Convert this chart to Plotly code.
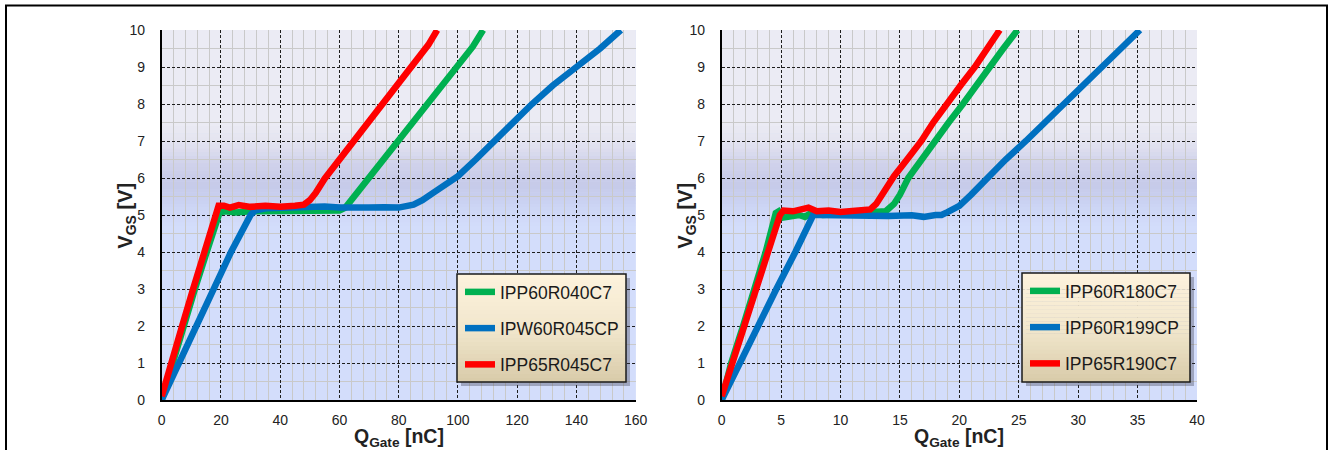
import plotly.graph_objects as go

W, H = 1332, 450

# ---------------- data ----------------
# Left chart: x = Q_Gate [nC] (0..160), y = V_GS [V]
L_NAMES = ["IPP60R040C7", "IPW60R045CP", "IPP65R045C7"]
L_GREEN_Q = [0, 3.6, 7.5, 11.2, 15.2, 18.8, 19.6, 22, 25, 30, 35, 40, 45, 50, 55, 60, 62, 64, 66,
             70, 75, 80, 85, 90, 95, 100, 105, 108.5]
L_GREEN_V = [0, 1.0, 2.0, 3.0, 4.0, 5.0, 5.08, 5.1, 5.07, 5.1, 5.1, 5.12, 5.09, 5.1, 5.08, 5.12,
             5.2, 5.4, 5.62, 6.05, 6.55, 7.0, 7.55, 8.05, 8.5, 9.0, 9.55, 10.0]
L_BLUE_Q = [0, 5.7, 12, 17.7, 23.4, 30, 31.5, 35, 40, 45, 50, 55, 60, 65, 70, 75, 80, 85, 88, 92,
            96, 100, 106, 112, 118, 125, 132, 140, 148, 155]
L_BLUE_V = [0, 1.0, 2.0, 3.0, 4.0, 5.0, 5.12, 5.18, 5.2, 5.22, 5.2, 5.23, 5.2, 5.22, 5.2, 5.21,
            5.2, 5.28, 5.4, 5.62, 5.85, 6.05, 6.5, 7.0, 7.45, 8.0, 8.5, 9.0, 9.5, 10.0]
L_RED_Q = [0, 3.1, 6.9, 10.6, 14.6, 18.3, 19.2, 21, 23, 26, 30, 35, 40, 45, 48, 50, 52, 55, 60,
           65, 70, 75, 80, 85, 90, 93]
L_RED_V = [0.1, 1.0, 2.0, 3.0, 4.0, 5.0, 5.25, 5.25, 5.2, 5.27, 5.22, 5.25, 5.22, 5.25, 5.28,
           5.4, 5.6, 5.98, 6.5, 7.0, 7.5, 8.05, 8.55, 9.05, 9.6, 10.0]

# Right chart: x = Q_Gate [nC] (0..40), y = V_GS [V]
R_NAMES = ["IPP60R180C7", "IPP60R199CP", "IPP65R190C7"]
R_GREEN_Q = [0, 0.8, 1.8, 2.75, 3.7, 4.55, 4.8, 5.2, 5.8, 6.5, 7.0, 7.5, 8.5, 10, 11.5, 13, 13.8,
             14.5, 15.0, 15.7, 16.8, 17.9, 19.1, 20.3, 21.4, 22.5, 23.7, 24.9]
R_GREEN_V = [0, 1.0, 2.0, 3.0, 4.0, 5.05, 5.1, 4.93, 4.98, 5.0, 4.95, 5.05, 5.0, 5.02, 5.05, 5.05,
             5.1, 5.3, 5.55, 6.0, 6.5, 7.0, 7.5, 8.0, 8.5, 9.0, 9.5, 10.0]
R_BLUE_Q = [0, 1.5, 3.0, 4.6, 6.2, 7.7, 8.2, 10, 12, 14, 16, 17, 18, 18.5, 19, 20, 21, 22.3,
            23.9, 25.6, 27.2, 28.8, 30.4, 32.1, 33.6, 35.2]
R_BLUE_V = [0, 1.0, 2.0, 3.0, 4.0, 5.0, 5.0, 4.98, 5.0, 4.97, 4.99, 4.95, 5.0, 5.0, 5.08, 5.25,
            5.55, 6.0, 6.5, 7.0, 7.5, 8.0, 8.5, 9.0, 9.5, 10.0]
R_RED_Q = [0, 0.93, 1.97, 2.9, 3.9, 4.9, 5.2, 6, 7, 7.3, 8, 9, 10, 11, 12, 12.5, 13, 13.5, 14,
           14.5, 15.6, 16.8, 17.8, 18.9, 20.1, 21.3, 22.3, 23.4]
R_RED_V = [0.1, 1.0, 2.0, 3.0, 4.0, 5.0, 5.12, 5.1, 5.15, 5.2, 5.1, 5.12, 5.08, 5.1, 5.12, 5.15,
           5.3, 5.55, 5.8, 6.05, 6.5, 7.0, 7.5, 8.0, 8.5, 9.0, 9.5, 10.0]

L_XMAX, R_XMAX, YMAX = 160, 40, 10
L_XTICK, R_XTICK, YTICK = 20, 5, 1
L_XMINOR, R_XMINOR, YMINOR = 4, 1, 0.5
X_TITLE = "<b>Q<sub>Gate</sub> [nC]</b>"
Y_TITLE = "<b>V<sub>GS</sub> [V]</b>"

COLORS = ["#00b050", "#0070c0", "#ff0000"]
FONT = "Arial, 'Liberation Sans', sans-serif"

# ---------------- helpers (styling only) ----------------
def hex2rgb(h):
    h = h.lstrip("#")
    return [int(h[i:i + 2], 16) for i in (0, 2, 4)]


def interp_color(stops, t):
    for (a, ca), (b, cb) in zip(stops[:-1], stops[1:]):
        if a <= t <= b:
            f = 0 if b == a else (t - a) / (b - a)
            c1, c2 = hex2rgb(ca), hex2rgb(cb)
            return "rgb(%d,%d,%d)" % tuple(round(c1[i] + (c2[i] - c1[i]) * f) for i in range(3))
    return stops[-1][1]


px_x = lambda v: v / W
px_y = lambda v: 1 - v / H

L_DOM = [161.7, 635.7]
R_DOM = [721.7, 1197.0]
Y_DOM = [30.0, 400.0]

fig = go.Figure()

# traces
for q, v, name, col in zip([L_GREEN_Q, L_BLUE_Q, L_RED_Q], [L_GREEN_V, L_BLUE_V, L_RED_V], L_NAMES, COLORS):
    fig.add_trace(go.Scatter(x=q, y=v, mode="lines", name=name, legend="legend", legendgroup=name,
                             line=dict(color=col, width=6.5), xaxis="x", yaxis="y", hoverinfo="skip"))
for q, v, name, col in zip([R_GREEN_Q, R_BLUE_Q, R_RED_Q], [R_GREEN_V, R_BLUE_V, R_RED_V], R_NAMES, COLORS):
    fig.add_trace(go.Scatter(x=q, y=v, mode="lines", name=name, legend="legend2", legendgroup=name,
                             line=dict(color=col, width=6.5), xaxis="x2", yaxis="y2", hoverinfo="skip"))

shapes = []
# plot-area background gradient (light lavender top, darker band, light blue bottom)
BG_STOPS = [(0, "#d3ddfb"), (4.7, "#d3ddfb"), (5.3, "#cbd3f3"), (5.8, "#c6cae9"),
            (6.4, "#d0d2eb"), (7.0, "#e4e4f0"), (7.4, "#eaeaf3"), (10, "#ebebf4")]
for xr, yr in (("x", "y"), ("x2", "y2")):
    shapes.append(dict(type="rect", xref=xr + " domain", yref=yr, x0=0, x1=1, y0=0, y1=4.6,
                       fillcolor="#d3ddfb", line_width=0, layer="below"))
    shapes.append(dict(type="rect", xref=xr + " domain", yref=yr, x0=0, x1=1, y0=7.4, y1=10,
                       fillcolor="#ebebf4", line_width=0, layer="below"))
    n = 28
    for i in range(n):
        a = 4.6 + (7.4 - 4.6) * i / n
        b = 4.6 + (7.4 - 4.6) * (i + 1) / n
        shapes.append(dict(type="rect", xref=xr + " domain", yref=yr, x0=0, x1=1, y0=a, y1=b + 0.01,
                           fillcolor=interp_color(BG_STOPS, (a + b) / 2), line_width=0, layer="below"))

# legend boxes (cream gradient with shadow and black border)
LEG_STOPS = [(0, "#fdf2dd"), (0.5, "#f2e7cd"), (1, "#d8cba9")]
for bx0, by0, bx1, by1 in ((457, 274, 626, 382), (1022, 273, 1190, 382)):
    shapes.append(dict(type="rect", xref="paper", yref="paper", x0=px_x(bx0 + 4), x1=px_x(bx1 + 4),
                       y0=px_y(by1 + 4), y1=px_y(by0 + 4), fillcolor="rgba(60,60,80,0.35)",
                       line_width=0, layer="above"))
    n = 27
    for i in range(n):
        ya = by0 + (by1 - by0) * i / n
        yb = by0 + (by1 - by0) * (i + 1) / n
        shapes.append(dict(type="rect", xref="paper", yref="paper", x0=px_x(bx0), x1=px_x(bx1),
                           y0=px_y(yb + 0.3), y1=px_y(ya), line_width=0, layer="above",
                           fillcolor=interp_color(LEG_STOPS, (i + 0.5) / n)))
    shapes.append(dict(type="rect", xref="paper", yref="paper", x0=px_x(bx0), x1=px_x(bx1),
                       y0=px_y(by1), y1=px_y(by0), line=dict(color="#1a1a1a", width=1.5),
                       fillcolor="rgba(0,0,0,0)", layer="above"))

# page frame
shapes.append(dict(type="rect", xref="paper", yref="paper", x0=px_x(6), x1=px_x(1327), y0=-0.2,
                   y1=px_y(5.5), line=dict(color="black", width=2), fillcolor="rgba(0,0,0,0)",
                   layer="above"))

# axis titles as annotations (exact placement)
annotations = []
for dom in (L_DOM, R_DOM):
    annotations.append(dict(text=X_TITLE, xref="paper", yref="paper", x=px_x((dom[0] + dom[1]) / 2),
                            y=px_y(437.5), xanchor="center", yanchor="middle", showarrow=False,
                            font=dict(family=FONT, size=19.5, color="#222")))
    annotations.append(dict(text=Y_TITLE, xref="paper", yref="paper", x=px_x(dom[0] - 36),
                            y=px_y(216), xanchor="center", yanchor="middle", showarrow=False,
                            textangle=-90, font=dict(family=FONT, size=20, color="#222")))


def xaxis(domain, xmax, dtick, minor, anchor):
    return dict(domain=[domain[0] / W, domain[1] / W], range=[0, xmax], dtick=dtick, tick0=0,
                anchor=anchor, showgrid=True, gridcolor="#1e1e1e", gridwidth=1, griddash="3px,2px",
                minor=dict(dtick=minor, tick0=0, showgrid=True, gridcolor="#c9c9c9", gridwidth=1.2,
                           griddash="solid"),
                showline=True, linecolor="black", linewidth=1.5, zeroline=False, ticks="",
                ticklabelstandoff=6, tickfont=dict(family=FONT, size=14, color="#222"),
                fixedrange=True, automargin=False)


def yaxis(anchor):
    return dict(domain=[1 - Y_DOM[1] / H, 1 - Y_DOM[0] / H], range=[0, YMAX], dtick=YTICK, tick0=0,
                anchor=anchor, showgrid=True, gridcolor="#1e1e1e", gridwidth=1, griddash="3px,2px",
                minor=dict(dtick=YMINOR, tick0=0, showgrid=True, gridcolor="#c9c9c9", gridwidth=1.2,
                           griddash="solid"),
                showline=True, linecolor="black", linewidth=1.5, zeroline=False, ticks="",
                ticklabelstandoff=12, tickfont=dict(family=FONT, size=14, color="#222"),
                fixedrange=True, automargin=False)


legend_common = dict(bgcolor="rgba(0,0,0,0)", borderwidth=0, tracegroupgap=10.5, itemwidth=30,
                     xanchor="left", yanchor="top", font=dict(family=FONT, size=17.5, color="#1a1a1a"),
                     traceorder="grouped")

fig.update_layout(
    width=W, height=H, autosize=False,
    margin=dict(l=0, r=0, t=0, b=0, pad=0),
    paper_bgcolor="white", plot_bgcolor="#d3ddfb",
    font=dict(family=FONT, color="#222"),
    showlegend=True,
    xaxis=xaxis(L_DOM, L_XMAX, L_XTICK, L_XMINOR, "y"),
    yaxis=yaxis("x"),
    xaxis2=xaxis(R_DOM, R_XMAX, R_XTICK, R_XMINOR, "y2"),
    yaxis2=yaxis("x2"),
    legend=dict(x=px_x(460), y=px_y(274), **legend_common),
    legend2=dict(x=px_x(1025), y=px_y(273), **legend_common),
    shapes=shapes,
    annotations=annotations,
)

fig.write_html("out.html", config={"displayModeBar": False},
               post_script="document.body.style.margin='0px';document.body.style.overflow='hidden';")
